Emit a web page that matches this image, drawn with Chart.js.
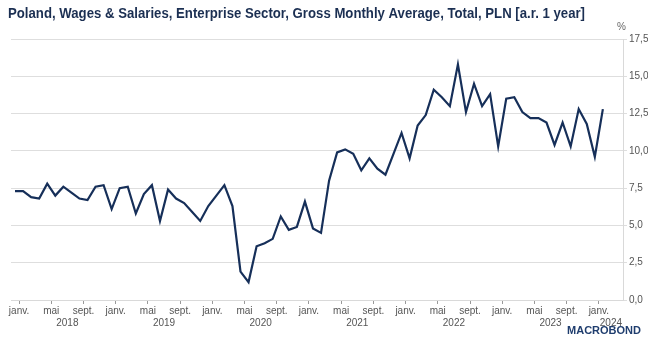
<!DOCTYPE html>
<html>
<head>
<meta charset="utf-8">
<script src="https://cdn.jsdelivr.net/npm/chart.js@4"></script>
<style>
  html, body { margin: 0; padding: 0; background: #fff; }
</style>
</head>
<body>
<canvas id="myChart" width="652" height="347"></canvas>
<script>
// monthly series, Dec 2017 .. Jan 2024 (y/y %)
const values = [
  7.3,
  7.3, 6.9, 6.8, 7.8, 7.0, 7.6, 7.2, 6.8, 6.7, 7.6, 7.7, 6.1,
  7.5, 7.6, 5.8, 7.1, 7.7, 5.3, 7.4, 6.8, 6.5, 5.9, 5.3, 6.3,
  7.0, 7.7, 6.3, 1.9, 1.2, 3.6, 3.8, 4.1, 5.6, 4.7, 4.9, 6.6,
  4.8, 4.5, 8.0, 9.9, 10.1, 9.8, 8.7, 9.5, 8.8, 8.4, 9.8, 11.2,
  9.5, 11.7, 12.4, 14.1, 13.6, 13.0, 15.8, 12.6, 14.5, 13.0, 13.8, 10.3,
  13.5, 13.6, 12.6, 12.2, 12.2, 11.9, 10.4, 11.9, 10.3, 12.8, 11.8, 9.6,
  12.8
];
const firstMonth = -1;           // Dec 2017 relative to Jan 2018
const years = ['2018', '2019', '2020', '2021', '2022', '2023', '2024'];
const monthLabels = { 0: 'janv.', 4: 'mai', 8: 'sept.' };
const yTicks = [0, 2.5, 5, 7.5, 10, 12.5, 15, 17.5];
const titleText = 'Poland, Wages & Salaries, Enterprise Sector, Gross Monthly Average, Total, PLN [a.r. 1 year]';

const xMin = -1, xMax = 75;
const font = "'Liberation Sans', Arial, sans-serif";

let points = values.map((v, i) => ({ x: firstMonth + i + 0.5, y: v }));

// title, % unit and logo (narrow look by squeezing the text horizontally)
const extras = {
  id: 'extras',
  afterDraw(chart) {
    let c = chart.ctx;
    c.save();
    c.fillStyle = '#1b2f52';
    c.font = 'bold 15px ' + font;
    c.textBaseline = 'middle';
    c.textAlign = 'left';
    let w = c.measureText(titleText).width;
    c.translate(8, 14);
    c.scale(577 / w, 1);
    c.fillText(titleText, 0, 0);
    c.restore();

    c.save();
    c.fillStyle = '#666';
    c.font = '10px ' + font;
    c.textBaseline = 'middle';
    c.fillText('%', 617, 27);
    c.fillStyle = '#1f3d6e';
    c.font = 'bold 11px ' + font;
    c.textAlign = 'right';
    c.fillText('MACROBOND', 641, 331);
    c.restore();
  }
};

let ctx = document.getElementById('myChart');
let myChart = new Chart(ctx, {
  type: 'line',
  data: {
    datasets: [{
      label: 'Wages & Salaries',
      data: points,
      borderColor: '#162f59',
      borderWidth: 2.2,
      pointRadius: 0,
      tension: 0,
      fill: false
    }]
  },
  options: {
    responsive: false,
    animation: false,
    devicePixelRatio: 1,
    layout: { padding: { left: 11, right: 4, top: 39, bottom: 17 } },
    plugins: {
      legend: { display: false },
      tooltip: { enabled: false },
      title: { display: false }
    },
    scales: {
      x: {
        type: 'linear',
        min: xMin,
        max: xMax,
        position: 'bottom',
        afterBuildTicks(scale) {
          let t = [];
          years.forEach((y, k) => {
            [0, 4, 8].forEach(m => {
              let v = k * 12 + m;
              if (v <= xMax) t.push({ value: v });
            });
          });
          scale.ticks = t;
        },
        afterFit(scale) { scale.height = 17; },
        ticks: {
          autoSkip: false,
          maxRotation: 0,
          padding: 1,
          color: '#555',
          font: { family: font, size: 10 },
          callback: v => monthLabels[((v % 12) + 12) % 12]
        },
        grid: { drawOnChartArea: false, tickLength: 4, color: '#999' },
        border: { display: true, color: '#d9d9d9' }
      },
      x2: {
        type: 'linear',
        min: xMin,
        max: xMax,
        position: 'bottom',
        afterBuildTicks(scale) {
          scale.ticks = years.map((y, k) => {
            let s = Math.max(k * 12, xMin), e = Math.min(k * 12 + 12, xMax);
            return { value: (s + e) / 2 };
          });
        },
        afterFit(scale) { scale.height = 13; },
        ticks: {
          autoSkip: false,
          maxRotation: 0,
          padding: 0,
          color: '#555',
          font: { family: font, size: 10 },
          callback: (v, i) => years[i]
        },
        grid: { display: false, drawTicks: false },
        border: { display: false }
      },
      y: {
        position: 'right',
        min: 0,
        max: 17.5,
        afterBuildTicks(scale) { scale.ticks = yTicks.map(v => ({ value: v })); },
        afterFit(scale) { scale.width = 25; },
        ticks: {
          padding: 2,
          color: '#555',
          font: { family: font, size: 10 },
          callback: v => v.toFixed(1).replace('.', ',')
        },
        grid: { color: '#dedede', tickLength: 4 },
        border: { display: true, color: '#d9d9d9' }
      }
    }
  },
  plugins: [extras]
});
</script>
</body>
</html>
